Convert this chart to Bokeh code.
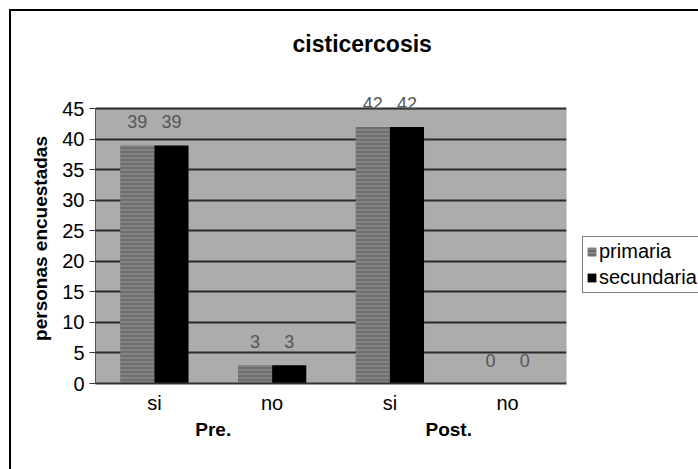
from bokeh.plotting import figure
from bokeh.models import (ColumnDataSource, FactorRange, FixedTicker, Legend, LegendItem,
                          Title, LabelSet, BoxAnnotation)
from bokeh.transform import dodge
from bokeh.core.properties import value
from bokeh.embed import file_html
from bokeh.resources import INLINE

chart_title = "cisticercosis"
y_label = "personas encuestadas"
phases = ["Pre.", "Pre.", "Post.", "Post."]
answers = ["si", "no", "si", "no"]
primaria = [39, 3, 42, 0]
secundaria = [39, 3, 42, 0]
y_ticks = [0, 5, 10, 15, 20, 25, 30, 35, 40, 45]
y_max = 45

FONT = "Liberation Sans"

factors = list(zip(phases, answers))
src = ColumnDataSource(dict(
    x=factors,
    primaria=primaria,
    secundaria=secundaria,
    lp=[str(v) for v in primaria],
    ls=[str(v) for v in secundaria],
))

# frame extends a little above the plot area so the value labels above 42 are not clipped
p = figure(
    x_range=FactorRange(*factors, factor_padding=0, group_padding=0, range_padding=0),
    y_range=(0, 47.5),
    frame_width=471, frame_height=290,
    output_backend="svg", toolbar_location=None,
    min_border_left=84, min_border_right=131, min_border_top=82, min_border_bottom=86,
    margin=(9, 0, 0, 9),
    styles={"border-left": "2px solid #000", "border-top": "2px solid #000"},
)
p.background_fill_color = "white"
p.border_fill_color = "white"
p.outline_line_color = None

# grey plot area (0..45)
p.add_layout(BoxAnnotation(bottom=0, top=y_max, fill_color="#acacac", fill_alpha=1,
                           line_color="#3a3a3a", line_width=1, level="image"))

# spacer title (empty) then real title above it
p.title.text = ""
p.add_layout(Title(text=" ", text_font_size="10px", standoff=19), "above")
p.add_layout(Title(text=chart_title, text_font=FONT, text_font_size="23px",
                   text_font_style="bold", align="left", offset=197,
                   text_color="black"), "above")

bw = 0.29
r1 = p.vbar(x=dodge("x", -bw / 2, range=p.x_range), top="primaria", width=bw, source=src,
            fill_color="#6e6e6e", line_color=None,
            hatch_pattern="horizontal_line", hatch_color="#9a9a9a", hatch_scale=4, hatch_weight=1)
r2 = p.vbar(x=dodge("x", bw / 2, range=p.x_range), top="secundaria", width=bw, source=src,
            fill_color="#000000", line_color=None)

for col, ycol, off in (("lp", "primaria", -bw / 2), ("ls", "secundaria", bw / 2)):
    labels = LabelSet(x=dodge("x", off, range=p.x_range), y=ycol, text=col, source=src,
                      text_font=value(FONT), text_font_size="18px", text_align="center",
                      text_baseline="alphabetic", y_offset=17, text_color="#555555")
    p.add_layout(labels)

# grid
p.xgrid.grid_line_color = None
p.ygrid.grid_line_color = "#2a2a2a"
p.ygrid.grid_line_width = 2
p.ygrid.ticker = FixedTicker(ticks=y_ticks)

# y axis
p.yaxis.ticker = FixedTicker(ticks=y_ticks)
p.yaxis.bounds = (0, y_max)
p.yaxis.axis_label = y_label
p.yaxis.axis_label_text_font = FONT
p.yaxis.axis_label_text_font_size = "19px"
p.yaxis.axis_label_text_font_style = "bold"
p.yaxis.axis_label_text_color = "black"
p.yaxis.axis_label_standoff = 8
p.yaxis.major_label_text_font = FONT
p.yaxis.major_label_text_font_size = "20px"
p.yaxis.major_label_text_color = "black"
p.yaxis.major_label_standoff = 5
p.yaxis.major_tick_out = 6
p.yaxis.major_tick_in = 0
p.yaxis.minor_tick_line_color = None
p.yaxis.axis_line_color = "#555555"
p.yaxis.major_tick_line_color = "#333333"

# x axis
p.xaxis.major_label_text_font = FONT
p.xaxis.major_label_text_font_size = "20px"
p.xaxis.major_label_text_color = "black"
p.xaxis.group_text_font = FONT
p.xaxis.group_text_font_size = "19px"
p.xaxis.group_text_font_style = "bold"
p.xaxis.group_text_color = "black"
p.xaxis.separator_line_color = None
p.xaxis.major_tick_line_color = None
p.xaxis.major_label_standoff = 2
p.xaxis.axis_line_color = "#333333"
p.xaxis.axis_line_width = 2

legend = Legend(items=[LegendItem(label="primaria", renderers=[r1]),
                       LegendItem(label="secundaria", renderers=[r2])],
                location=(16, 90))
legend.label_text_font = FONT
legend.label_text_font_size = "20px"
legend.label_text_color = "black"
legend.glyph_width = 11
legend.glyph_height = 11
legend.label_standoff = 2
legend.label_height = 22
legend.spacing = 3
legend.padding = 3
legend.margin = 0
legend.border_line_color = "black"
legend.border_line_width = 1
legend.background_fill_color = "white"
legend.background_fill_alpha = 1
p.add_layout(legend, "right")

open("out.html", "w").write(file_html(p, INLINE))
